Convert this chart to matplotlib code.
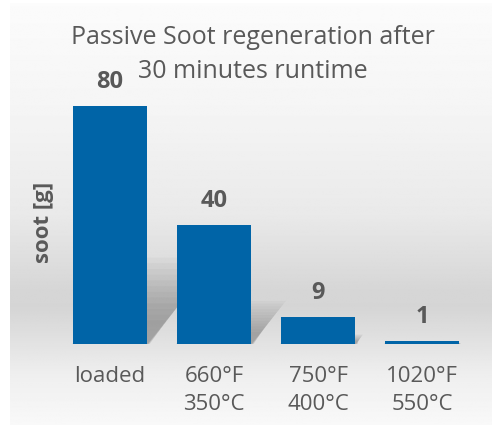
import numpy as np
import matplotlib.pyplot as plt
from matplotlib.patches import Polygon

# Data
categories = ['loaded', '660°F\n350°C', '750°F\n400°C', '1020°F\n550°C']
soot = [80, 40, 9, 1]

title_lines = ['Passive Soot regeneration after', '30 minutes runtime']
bar_color = '#0064a7'
text_color = '#595959'

plt.rcParams['font.family'] = ['Open Sans', 'DejaVu Sans']

fig = plt.figure(figsize=(4.92, 4.28), dpi=100)
fig.patch.set_facecolor('white')

# Background panel with vertical grey gradient
bg = fig.add_axes([10 / 492, 3 / 428, 482 / 492, 422 / 428], zorder=0)
stops_y = [0.0, 0.25, 0.5, 0.68, 0.72, 0.78, 0.88, 1.0]
stops_v = [0.985, 0.96, 0.915, 0.84, 0.835, 0.87, 0.935, 0.975]
yy = np.linspace(0, 1, 400)
vals = np.interp(yy, stops_y, stops_v)
img = np.repeat(vals[:, None], 2, axis=1)
bg.imshow(img, cmap='gray', vmin=0, vmax=1, aspect='auto', extent=[0, 1, 1, 0])
bg.set_axis_off()

# Chart axes
ax = fig.add_axes([58 / 492, (428 - 344) / 428, 416 / 492, 268 / 428], zorder=1)
ax.patch.set_alpha(0)
x = np.arange(len(categories))
width = 0.72
px_x, px_y = 104.0, 2.98  # pixels per data unit

# soft diagonal shadows cast up and to the right
for xi, h in zip(x, soot):
    hs = 0.33 * h * px_y          # shadow height in px
    d = 0.8 * hs                  # shadow shift in px
    x0, x1 = xi - width / 2, xi + width / 2
    for k in np.linspace(1.1, 0.3, 12):
        poly = Polygon([(x0, 0), (x1 + 0.03 * (1.1 - k), 0),
                        (x1 + d * k / px_x, hs * k / px_y),
                        (x0 + d * k / px_x, hs * k / px_y)],
                       closed=True, facecolor='black', alpha=0.022,
                       edgecolor='none', zorder=1)
        ax.add_patch(poly)

ax.bar(x, soot, width=width, color=bar_color, zorder=3)

for xi, h in zip(x, soot):
    ax.text(xi, h + 8, str(h), ha='center', va='center', fontsize=17,
            fontweight='bold', color=text_color, zorder=4)

ax.set_xlim(-0.5, 3.5)
ax.set_ylim(0, 90)
ax.set_xticks(x)
ax.set_xticklabels(categories, fontsize=16, color=text_color, linespacing=1.45)
ax.tick_params(axis='x', length=0, pad=16)
ax.set_yticks([])
for s in ax.spines.values():
    s.set_visible(False)

fig.text(43 / 492, 1 - 222 / 428, 'soot [g]', rotation=90, ha='center', va='center',
         fontsize=16, fontweight='bold', color=text_color)
for line, ypx in zip(title_lines, [37, 71]):
    fig.text(253 / 492, 1 - ypx / 428, line, ha='center', va='center', fontsize=18,
             color=text_color)

fig.savefig('out.png', dpi=100)
